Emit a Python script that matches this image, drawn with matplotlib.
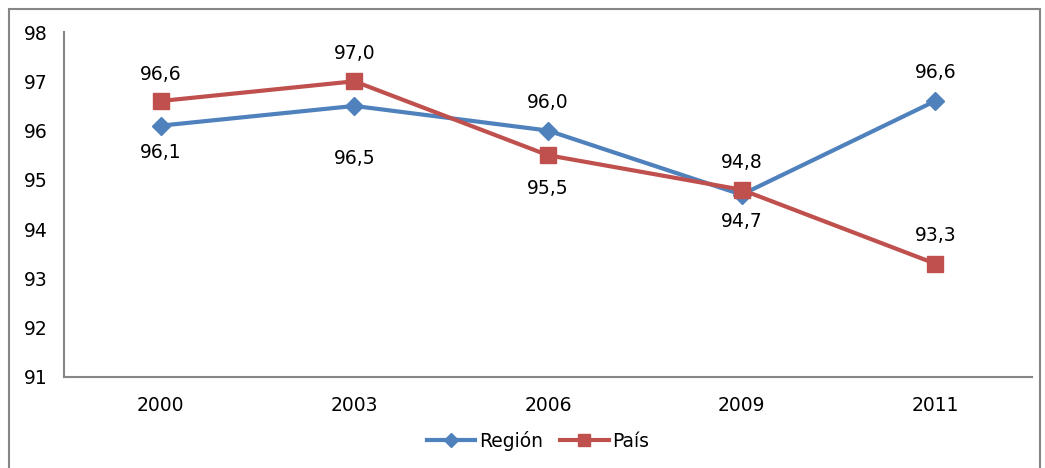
import matplotlib.pyplot as plt
from matplotlib.patches import Rectangle

years = ["2000", "2003", "2006", "2009", "2011"]
region = [96.1, 96.5, 96.0, 94.7, 96.6]
pais = [96.6, 97.0, 95.5, 94.8, 93.3]

# vertical label offsets in pixels (negative = above the point)
region_off = [27, 53, -28, 27, -28]
pais_off = [-27, -28, 33, -27, -28]

plt.rcParams['font.family'] = ['DejaVu Sans']

fig = plt.figure(figsize=(10.45, 4.68), dpi=100)
ax = fig.add_axes([64 / 1045, 1 - 377 / 468, (1032 - 64) / 1045, (377 - 32) / 468])

x = list(range(len(years)))
ax.plot(x, region, color="#4F81BD", lw=3, marker="D", ms=9.5, label="Región", zorder=3)
ax.plot(x, pais, color="#C0504D", lw=3, marker="s", ms=12, label="País", zorder=3)

for xi, v, o in zip(x, region, region_off):
    ax.annotate(f"{v:.1f}".replace(".", ","), (xi, v), xytext=(0, -o),
                textcoords="offset pixels", ha="center", va="center", fontsize=13.5)
for xi, v, o in zip(x, pais, pais_off):
    ax.annotate(f"{v:.1f}".replace(".", ","), (xi, v), xytext=(0, -o),
                textcoords="offset pixels", ha="center", va="center", fontsize=13.5)

ax.set_xlim(-0.5, len(years) - 0.5)
ax.set_ylim(91, 98)
ax.set_xticks(x)
ax.set_xticklabels(years)
ax.set_yticks(range(91, 99))
ax.tick_params(length=0, labelsize=13.5, colors="black")
ax.tick_params(axis="y", pad=12)
ax.tick_params(axis="x", pad=14)
for s in ["top", "right"]:
    ax.spines[s].set_visible(False)
for s in ["left", "bottom"]:
    ax.spines[s].set_color("#868686")
    ax.spines[s].set_linewidth(1.5)

ax.legend(loc="center", bbox_to_anchor=(538 / 1045, 1 - 441 / 468),
          bbox_transform=fig.transFigure, ncol=2, frameon=False,
          fontsize=13.5, handlelength=2.6, columnspacing=0.9, handletextpad=0.2,
          markerscale=0.7)

fig.patches.append(Rectangle((9 / 1045, -0.05), (1040 - 9) / 1045, 1.05 - 9 / 468,
                             transform=fig.transFigure, fill=False,
                             edgecolor="#868686", lw=1.5))

fig.savefig("out.png", dpi=100)
